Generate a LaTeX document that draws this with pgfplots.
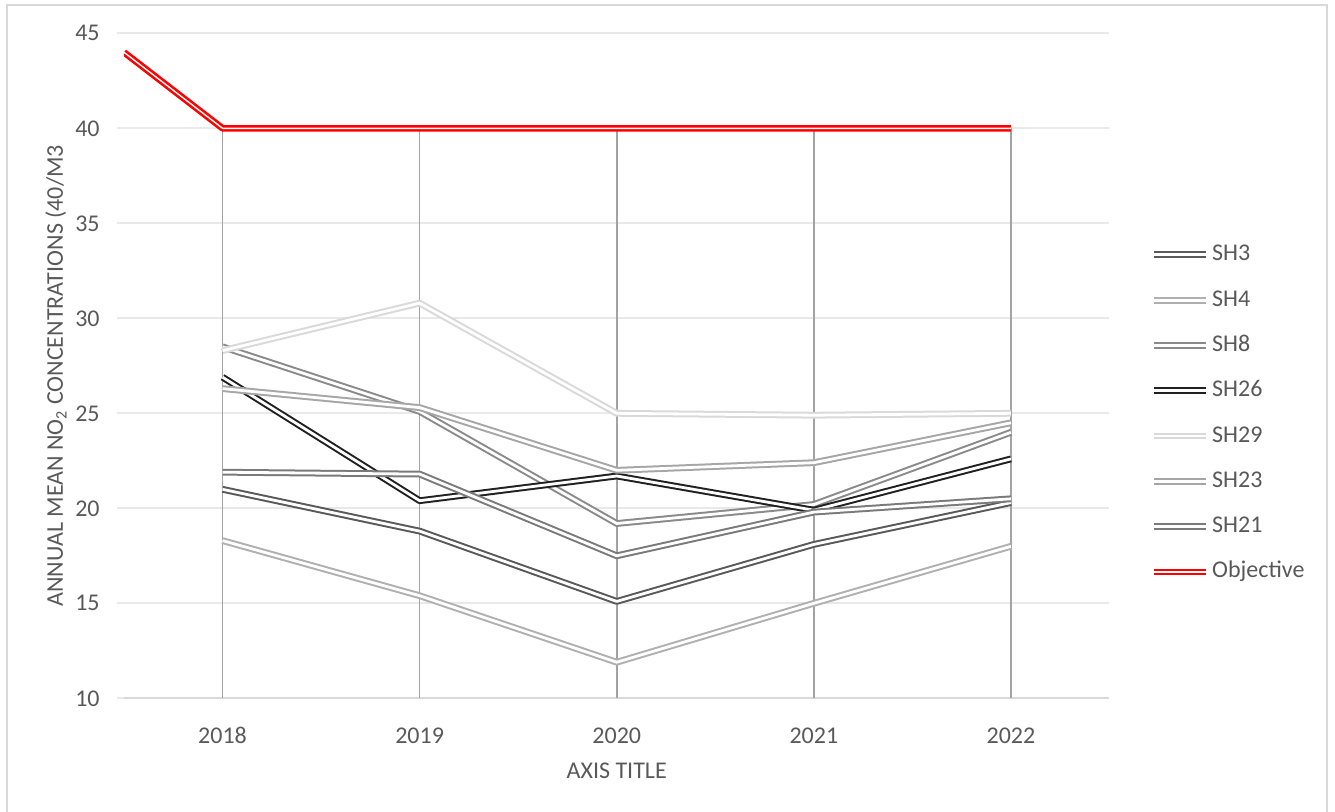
\documentclass[border=0pt]{standalone}
\usepackage{fontspec}
\setmainfont{Carlito}
\usepackage{pgfplots}
\pgfplotsset{compat=1.18}
\definecolor{txt}{HTML}{595959}
\definecolor{gridc}{HTML}{E9E9E9}
\definecolor{axc}{HTML}{D9D9D9}
\definecolor{dropc}{HTML}{A3A3A3}
\definecolor{cSHthree}{HTML}{595959}
\definecolor{cSHfour}{HTML}{B0B0B0}
\definecolor{cSHeight}{HTML}{8A8A8A}
\definecolor{cSHtwentysix}{HTML}{202020}
\definecolor{cSHtwentynine}{HTML}{D9D9D9}
\definecolor{cSHtwentythree}{HTML}{A6A6A6}
\definecolor{cSHtwentyone}{HTML}{7A7A7A}
\definecolor{cObj}{HTML}{FF0000}
\begin{document}
\begin{tikzpicture}[font=\fontsize{12}{14}\selectfont]
\useasboundingbox (-62pt,-56.35pt) rectangle (605.5pt,349.15pt);
\draw[axc, line width=1pt] (-58.5pt,-60pt) -- (-58.5pt,346.65pt) -- (601.5pt,346.65pt) -- (601.5pt,-60pt);
\begin{axis}[
  at={(0pt,0pt)}, anchor=south west,
  scale only axis, width=492.75pt, height=332.5pt,
  xmin=-0.5, xmax=4.5, ymin=10, ymax=45,
  xtick={0,1,2,3,4}, xticklabels={2018,2019,2020,2021,2022},
  ytick={10,15,20,25,30,35,40,45},
  /pgf/number format/assume math mode=true,
  axis x line=bottom, axis y line=left,
  axis line style={-},
  x axis line style={draw=axc, line width=0.85pt},
  y axis line style={draw=none},
  ymajorgrids, major grid style={draw=gridc, line width=0.85pt},
  tick align=outside, major tick length=3.5pt,
  ytick style={draw=gridc, line width=0.85pt},
  xtick style={draw=none},
  ticklabel style={text=txt, font=\fontsize{12}{14}\selectfont},
  xticklabel style={anchor=center, yshift=-15pt},
  yticklabel style={anchor=east, inner sep=0pt, xshift=-8.5pt},
  xlabel={AXIS TITLE},
  xlabel style={at={(axis description cs:0.5,-0.1083)}, anchor=center, text=txt, font=\fontsize{12}{14}\selectfont},
  ylabel={ANNUAL MEAN NO\textsubscript{2} CONCENTRATIONS (40/M3},
  ylabel style={at={(axis description cs:-0.069,0.485)}, anchor=center, text=txt, font=\fontsize{12}{14}\selectfont},
  every axis plot/.append style={line join=round},
  legend style={at={(1.0411,0.684)}, anchor=north west, draw=none, fill=none,
    inner sep=0pt, row sep=11.65pt, text=txt,
    nodes={inner ysep=0pt, inner xsep=1.5pt, text height=8.5pt, text depth=2.5pt,
      font=\fontsize{12}{14}\selectfont}},
  legend cell align=left,
  legend image code/.code={\draw[#1] (0pt,0pt) -- (26pt,0pt);},
  clip mode=global,
]
% drop lines
\addplot[ycomb, dropc, line width=0.8pt, forget plot] coordinates {(0,40) (1,40) (2,40) (3,40) (4,40)};
\addplot[cSHthree, line width=1.0pt, double=white, double distance=1.4pt] coordinates {(0,21.0) (1,18.8) (2,15.1) (3,18.1) (4,20.3)};
\addlegendentry{SH3}
\addplot[cSHfour, line width=1.0pt, double=white, double distance=1.4pt] coordinates {(0,18.3) (1,15.4) (2,11.9) (3,15.0) (4,18.0)};
\addlegendentry{SH4}
\addplot[cSHeight, line width=1.0pt, double=white, double distance=1.4pt] coordinates {(0,28.5) (1,25.1) (2,19.2) (3,20.2) (4,24.0)};
\addlegendentry{SH8}
\addplot[cSHtwentysix, line width=1.0pt, double=white, double distance=1.4pt] coordinates {(0,26.9) (1,20.4) (2,21.7) (3,19.9) (4,22.6)};
\addlegendentry{SH26}
\addplot[cSHtwentynine, line width=1.0pt, double=white, double distance=1.4pt] coordinates {(0,28.3) (1,30.8) (2,25.0) (3,24.9) (4,25.0)};
\addlegendentry{SH29}
\addplot[cSHtwentythree, line width=1.0pt, double=white, double distance=1.4pt] coordinates {(0,26.3) (1,25.3) (2,22.0) (3,22.4) (4,24.5)};
\addlegendentry{SH23}
\addplot[cSHtwentyone, line width=1.0pt, double=white, double distance=1.4pt] coordinates {(0,21.9) (1,21.8) (2,17.5) (3,19.8) (4,20.5)};
\addlegendentry{SH21}
\addplot[cObj, line width=1.3pt, double=white, double distance=0.7pt] coordinates {(-0.5,44.0) (0,40) (1,40) (2,40) (3,40) (4,40)};
\addlegendentry{Objective}
\end{axis}
\end{tikzpicture}
\end{document}
